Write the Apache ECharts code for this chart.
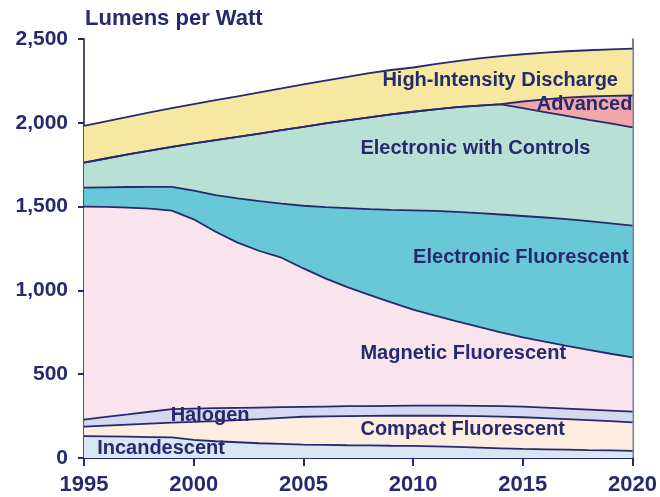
<!DOCTYPE html>
<html>
<head>
<meta charset="utf-8">
<script src="https://cdn.jsdelivr.net/npm/echarts@6/dist/echarts.min.js"></script>
<style>html,body{margin:0;padding:0;background:#fff}#c{width:660px;height:497px}</style>
</head>
<body>
<div id="c"></div>
<script>
const years = [1995,1996,1997,1998,1999,2000,2001,2002,2003,2004,2005,2006,2007,2008,2009,2010,2011,2012,2013,2014,2015,2016,2017,2018,2019,2020];
const incandescent = [130,129,127,125,123,108,100,94,88,84,80,78,76,75,73,72,69,66,62,58,54,52,50,47,45,42];
const compactFluorescent = [57,64,72,80,88,107,120,132,144,156,166,170,174,176,179,180,183,185,188,189,189,186,182,179,175,171];
const halogen = [42,52,61,71,81,80,77,73,69,63,59,59,59,59,59,60,60,61,61,62,63,63,63,63,63,64];
const magneticFluorescent = [1271,1253,1234,1212,1184,1129,1053,986,934,892,826,765,711,663,617,573,538,503,471,441,414,393,374,356,339,323];
const electronicFluorescent = [113,117,123,130,142,171,219,264,298,323,374,425,471,512,553,593,624,653,679,703,724,741,756,768,778,786];
const electronicWithControls = [150,172,194,216,239,282,328,367,403,438,471,499,524,548,569,588,606,625,642,657,643,629,616,605,596,587];
const advanced = [0,0,0,0,0,0,0,0,0,0,0,0,0,0,0,0,0,0,0,2,40,76,109,139,165,190];
const highIntensityDischarge = [219,221,224,228,231,235,238,242,246,249,253,256,259,264,265,264,270,275,282,286,282,279,277,276,277,279];
const yTicks = [0,500,1000,1500,2000,2500];
const xTickYears = [1995,2000,2005,2010,2015,2020];

const names = ['Incandescent','Compact Fluorescent','Halogen','Magnetic Fluorescent','Electronic Fluorescent','Electronic with Controls','Advanced','High-Intensity Discharge'];
const values = [incandescent,compactFluorescent,halogen,magneticFluorescent,electronicFluorescent,electronicWithControls,advanced,highIntensityDischarge];
const colors = ['#d8e6f4','#fdece0','#d3d9ee','#f9e4ee','#68c8d7','#b9e0d4','#f4a7a8','#f6e7a1'];
// label anchors: [index along year axis (fractional), value]
const labelAnchors = [[0.6,54],[12.6,173],[3.95,251],[12.6,626],[15,1199],[12.6,1844],[20.64,2112],[13.6,2255]];

const navy = '#27296e';
const chart = echarts.init(document.getElementById('c'));
const series = names.map((n,i)=>({
  name:n, type:'line', stack:'total', symbol:'none', smooth:false,
  data: values[i],
  lineStyle:{color:navy, width:1.8},
  areaStyle:{color:colors[i], opacity:1}
}));
const showYear = (idx)=> xTickYears.indexOf(years[idx]) >= 0;
chart.setOption({
  animation:false,
  grid:{left:84,right:26,top:39,bottom:39},
  title:{text:'Lumens per Watt', left:80, top:3, textStyle:{fontFamily:'Liberation Sans, Arial', fontWeight:'bold', fontSize:22, color:navy}},
  xAxis:{type:'category', data:years.map(String), boundaryGap:false,
    axisLine:{lineStyle:{color:navy,width:2}},
    axisTick:{show:true,length:8,interval:(i)=>showYear(i),lineStyle:{color:navy,width:2}},
    splitLine:{show:false},
    axisLabel:{margin:16, interval:(i)=>showYear(i), fontFamily:'Liberation Sans, Arial', fontWeight:'bold', fontSize:22, color:navy}},
  yAxis:[{type:'value', min:yTicks[0], max:yTicks[yTicks.length-1], interval:500,
    axisLine:{show:true,lineStyle:{color:'#4a4c8c',width:2}},
    axisTick:{show:true,length:6,lineStyle:{color:navy,width:2}},
    splitLine:{show:false},
    axisLabel:{margin:16, fontFamily:'Liberation Sans, Arial', fontWeight:'bold', fontSize:21, color:navy,
      formatter:v=>v.toLocaleString('en-US')}},
    {type:'value', position:'right', min:0, max:2500, interval:500,
    axisLine:{show:true,lineStyle:{color:'#4a4c8c',width:1.5}}, axisTick:{show:false}, axisLabel:{show:false}, splitLine:{show:false}}],
  series: series
});
const grid = chart.getModel().getComponent('grid').coordinateSystem.getRect();
const yPix = (v)=> chart.convertToPixel({yAxisIndex:0}, v);
const xPix = (fi)=> grid.x + fi * grid.width / (years.length - 1);
const elements = names.map((n,i)=>({type:'text', x:xPix(labelAnchors[i][0]), y:yPix(labelAnchors[i][1]), z:100,
  style:{text:n, fill:navy, font:'bold 20px "Liberation Sans", Arial', textAlign:'left', textVerticalAlign:'middle'}}));
chart.setOption({graphic:{elements:elements}});
</script>
</body>
</html>
